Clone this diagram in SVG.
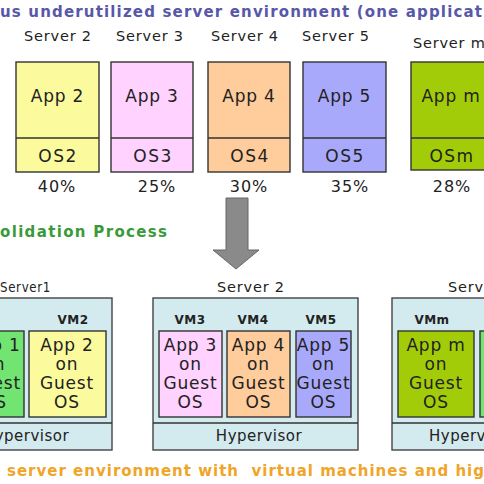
<svg xmlns="http://www.w3.org/2000/svg" width="484" height="484" viewBox="0 0 484 484">
  <style>
    .lbl { font-family: "DejaVu Sans", "Liberation Sans", sans-serif; fill: #222; }
    .srv { font-size: 14.5px; letter-spacing: 0.8px; }
    .pct { font-size: 16px; letter-spacing: 1px; }
    .app { font-size: 17px; letter-spacing: 0.8px; }
    .os  { font-size: 17px; letter-spacing: 1.5px; }
    .vm  { font-size: 12px; font-weight: bold; letter-spacing: 0.5px; }
    .hyp { font-size: 15px; letter-spacing: 0.5px; }
    .box { stroke: #333; stroke-width: 1.4; }
    .host { fill: #d3eaee; stroke: #444; stroke-width: 1.4; }
    .mid { text-anchor: middle; }
    .head { font-family: "DejaVu Sans", "Liberation Sans", sans-serif; font-weight: bold; font-size: 15px; }
  </style>

  <rect width="484" height="484" fill="#ffffff"/>

  <!-- headings -->
  <text class="head" x="0" y="17" fill="#5858a8" textLength="482" lengthAdjust="spacing">us underutilized server environment (one applicat</text>
  <text class="head" x="0" y="237" fill="#3a9a3a" textLength="167" lengthAdjust="spacing">olidation Process</text>
  <text class="head" x="7" y="476" fill="#f0a428" textLength="477" lengthAdjust="spacing" xml:space="preserve">server environment with  virtual machines and hig</text>

  <!-- physical servers, one application each -->
  <g id="server2">
    <text class="lbl srv mid" x="58" y="41">Server 2</text>
    <rect class="box" x="16" y="62" width="83" height="110" fill="#fbfb9e"/>
    <line class="box" x1="16" y1="138" x2="99" y2="138"/>
    <text class="lbl app mid" x="57.5" y="102">App 2</text>
    <text class="lbl os mid" x="58" y="162">OS2</text>
    <text class="lbl pct mid" x="57" y="192">40%</text>
  </g>
  <g id="server3">
    <text class="lbl srv mid" x="150" y="41">Server 3</text>
    <rect class="box" x="111" y="62" width="82" height="110" fill="#ffd2ff"/>
    <line class="box" x1="111" y1="138" x2="193" y2="138"/>
    <text class="lbl app mid" x="152" y="102">App 3</text>
    <text class="lbl os mid" x="153" y="162">OS3</text>
    <text class="lbl pct mid" x="157" y="192">25%</text>
  </g>
  <g id="server4">
    <text class="lbl srv mid" x="245" y="41">Server 4</text>
    <rect class="box" x="208" y="62" width="82" height="110" fill="#ffcc9c"/>
    <line class="box" x1="208" y1="138" x2="290" y2="138"/>
    <text class="lbl app mid" x="249" y="102">App 4</text>
    <text class="lbl os mid" x="250" y="162">OS4</text>
    <text class="lbl pct mid" x="249" y="192">30%</text>
  </g>
  <g id="server5">
    <text class="lbl srv mid" x="336" y="41">Server 5</text>
    <rect class="box" x="303" y="62" width="83" height="110" fill="#a9a9fb"/>
    <line class="box" x1="303" y1="138" x2="386" y2="138"/>
    <text class="lbl app mid" x="344.5" y="102">App 5</text>
    <text class="lbl os mid" x="345" y="162">OS5</text>
    <text class="lbl pct mid" x="350" y="192">35%</text>
  </g>
  <g id="serverm">
    <text class="lbl srv" x="413" y="48">Server m</text>
    <rect class="box" x="411" y="62" width="82" height="108" fill="#a3cc08"/>
    <line class="box" x1="411" y1="138" x2="493" y2="138"/>
    <text class="lbl app mid" x="451" y="102">App m</text>
    <text class="lbl os mid" x="452" y="162">OSm</text>
    <text class="lbl pct mid" x="452" y="192">28%</text>
  </g>

  <!-- consolidation arrow -->
  <g id="connectors">
    <polygon points="226,198 248,198 248,250 259,250 236,269 213,250 226,250" fill="#8a8a8a" stroke="#666" stroke-width="1"/>
  </g>

  <!-- virtualized hosts -->
  <g id="host1">
    <text class="lbl srv" x="0" y="292" textLength="51" lengthAdjust="spacingAndGlyphs">Server1</text>
    <rect class="host" x="-10" y="298" width="122" height="152"/>
    <line class="box" x1="-10" y1="423" x2="112" y2="423"/>
    <text class="lbl hyp mid" x="26" y="441">Hypervisor</text>
  </g>
  <g id="vm1">
    <rect class="box" x="-60" y="331" width="84" height="86" fill="#72e472"/>
    <text class="lbl app mid" x="-6" y="351">App 1</text>
    <text class="lbl app mid" x="-6" y="370">on</text>
    <text class="lbl app mid" x="-6" y="389">Guest</text>
    <text class="lbl app mid" x="-6" y="408">OS</text>
  </g>
  <g id="vm2">
    <text class="lbl vm mid" x="73" y="324">VM2</text>
    <rect class="box" x="29" y="331" width="77" height="86" fill="#fbfb9e"/>
    <text class="lbl app mid" x="67" y="351">App 2</text>
    <text class="lbl app mid" x="67" y="370">on</text>
    <text class="lbl app mid" x="67" y="389">Guest</text>
    <text class="lbl app mid" x="67" y="408">OS</text>
  </g>

  <g id="host2">
    <text class="lbl srv mid" x="251" y="292">Server 2</text>
    <rect class="host" x="153" y="298" width="205" height="152"/>
    <line class="box" x1="153" y1="423" x2="358" y2="423"/>
    <text class="lbl hyp mid" x="259" y="441">Hypervisor</text>
  </g>
  <g id="vm3">
    <text class="lbl vm mid" x="190" y="324">VM3</text>
    <rect class="box" x="159" y="331" width="63" height="86" fill="#ffd2ff"/>
    <text class="lbl app mid" x="190.5" y="351">App 3</text>
    <text class="lbl app mid" x="190.5" y="370">on</text>
    <text class="lbl app mid" x="190.5" y="389">Guest</text>
    <text class="lbl app mid" x="190.5" y="408">OS</text>
  </g>
  <g id="vm4">
    <text class="lbl vm mid" x="253" y="324">VM4</text>
    <rect class="box" x="227" y="331" width="63" height="86" fill="#ffcc9c"/>
    <text class="lbl app mid" x="258.5" y="351">App 4</text>
    <text class="lbl app mid" x="258.5" y="370">on</text>
    <text class="lbl app mid" x="258.5" y="389">Guest</text>
    <text class="lbl app mid" x="258.5" y="408">OS</text>
  </g>
  <g id="vm5">
    <text class="lbl vm mid" x="321" y="324">VM5</text>
    <rect class="box" x="296" y="331" width="55" height="86" fill="#a9a9fb"/>
    <text class="lbl app mid" x="323.5" y="351">App 5</text>
    <text class="lbl app mid" x="323.5" y="370">on</text>
    <text class="lbl app mid" x="323.5" y="389">Guest</text>
    <text class="lbl app mid" x="323.5" y="408">OS</text>
  </g>

  <g id="host3">
    <text class="lbl srv" x="448" y="292">Server</text>
    <rect class="host" x="392" y="298" width="120" height="152"/>
    <line class="box" x1="392" y1="423" x2="512" y2="423"/>
    <text class="lbl hyp" x="429" y="441">Hypervisor</text>
  </g>
  <g id="vmm">
    <text class="lbl vm mid" x="432" y="324">VMm</text>
    <rect class="box" x="398" y="331" width="76" height="86" fill="#a3cc08"/>
    <text class="lbl app mid" x="436" y="351">App m</text>
    <text class="lbl app mid" x="436" y="370">on</text>
    <text class="lbl app mid" x="436" y="389">Guest</text>
    <text class="lbl app mid" x="436" y="408">OS</text>
  </g>
  <g id="vmn">
    <rect class="box" x="480" y="331" width="60" height="86" fill="#72e472"/>
  </g>
</svg>
